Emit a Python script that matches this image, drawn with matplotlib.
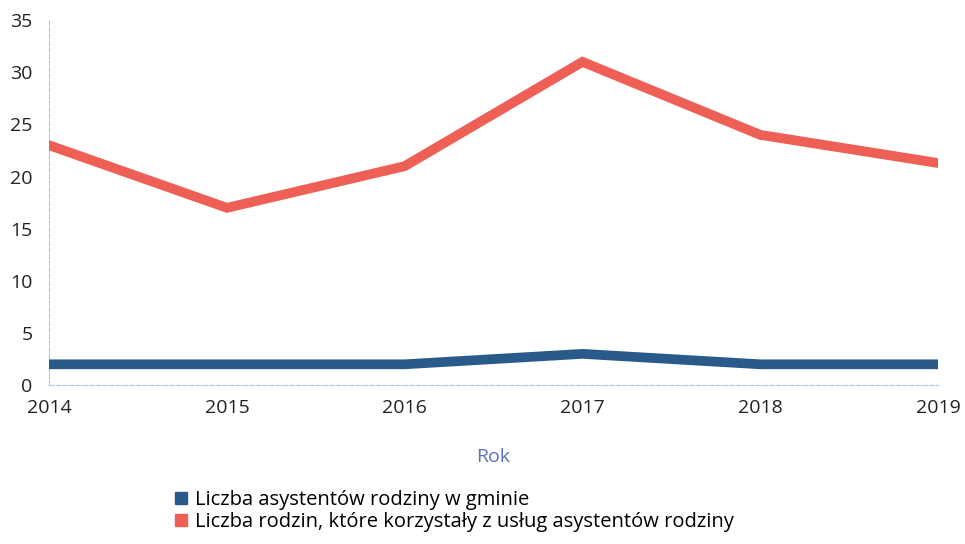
import matplotlib
matplotlib.use("Agg")
import matplotlib.pyplot as plt
from matplotlib.lines import Line2D

plt.rcParams['font.family'] = ['Open Sans', 'DejaVu Sans']

years = [2014, 2015, 2016, 2017, 2018, 2019]
asystenci = [2, 2, 2, 3, 2, 2]
rodziny = [23, 17, 21, 31, 24, 21.3]
labels = ["Liczba asystentów rodziny w gminie",
          "Liczba rodzin, które korzystały z usług asystentów rodziny"]
colors = ["#2a5a8a", "#ee5f55"]

fig = plt.figure(figsize=(9.65, 5.44), dpi=100)
ax = fig.add_axes([0.051, 0.292, 0.921, 0.671])

ax.plot(years, rodziny, color=colors[1], linewidth=7, solid_joinstyle='miter', zorder=3)
ax.plot(years, asystenci, color=colors[0], linewidth=7, solid_joinstyle='miter', zorder=3)

ax.set_xlim(2014, 2019)
ax.set_ylim(0, 35)
ax.set_yticks(range(0, 36, 5))
ax.set_xticks(years)

for s in ['top', 'right']:
    ax.spines[s].set_visible(False)
for s in ['left', 'bottom']:
    ax.spines[s].set_color('#a9c6ea')
    ax.spines[s].set_linestyle((0, (4, 2)))
    ax.spines[s].set_linewidth(0.8)

ax.tick_params(length=0, labelsize=14, colors='#222222')
ax.tick_params(axis='x', pad=10)
ax.tick_params(axis='y', pad=12)

ax.set_xlabel("Rok", color='#5b6fc4', fontsize=14, labelpad=22)

handles = [Line2D([], [], marker='s', linestyle='none', markersize=8,
                  markerfacecolor=c, markeredgecolor=c) for c in colors]
fig.legend(handles, labels, loc='lower left', bbox_to_anchor=(0.165, 0.0),
           frameon=False, fontsize=14.5, handletextpad=0.2, labelspacing=0.1,
           handlelength=1.0, borderaxespad=0.2)

fig.savefig("out.png", dpi=100)
